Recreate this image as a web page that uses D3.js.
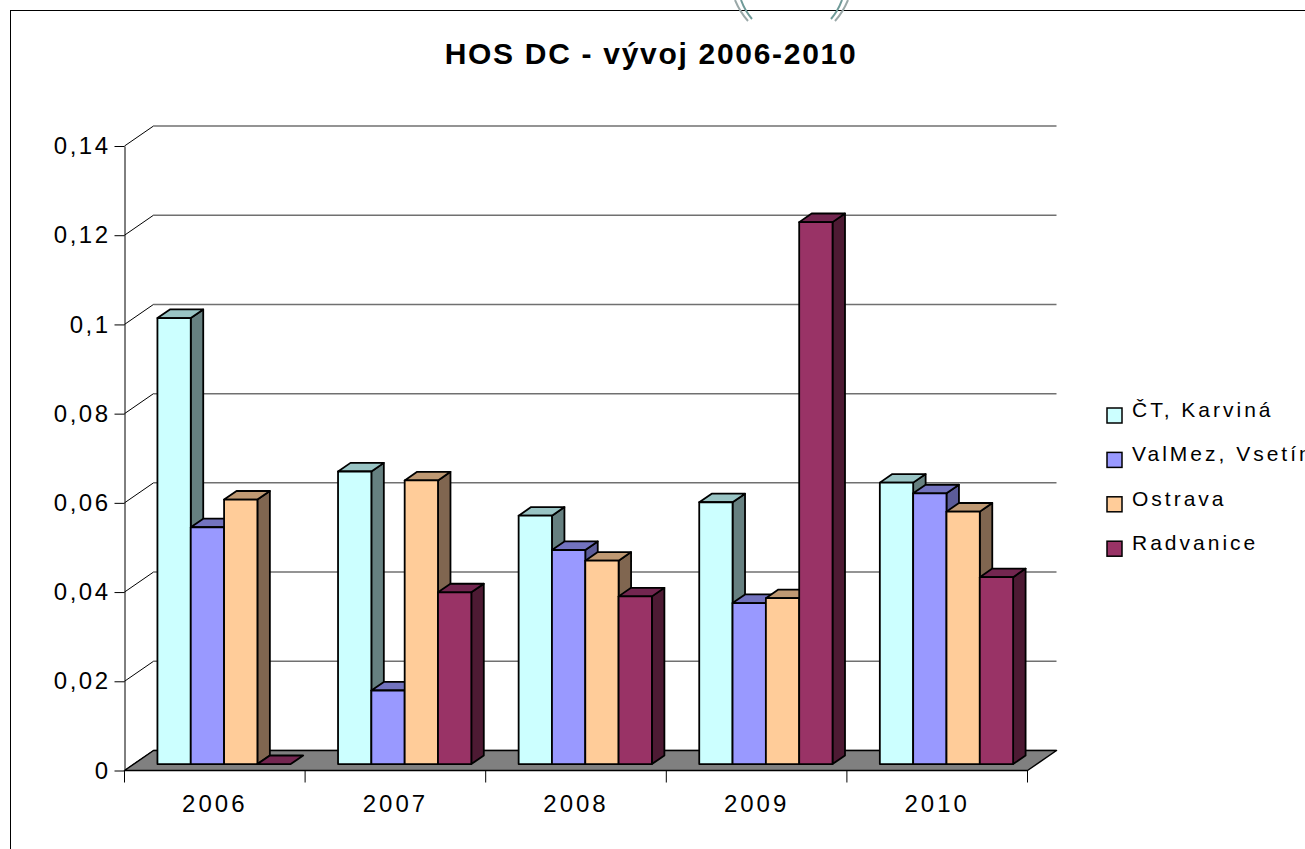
<!DOCTYPE html>
<html>
<head>
<meta charset="utf-8">
<script src="https://cdn.jsdelivr.net/npm/d3@7"></script>
<style>
  body { margin: 0; background: #fff; }
  text { font-family: Arial, "Liberation Sans", sans-serif; fill: #000; }
</style>
</head>
<body>
<svg id="chart" width="1305" height="849"></svg>
<script>
// ---- data ----
const years = ["2006", "2007", "2008", "2009", "2010"];
const seriesNames = ["ČT, Karviná", "ValMez, Vsetín", "Ostrava", "Radvanice"];
const ctKarvina    = [0.1000, 0.0656, 0.0557, 0.0587, 0.0631];
const valMezVsetin = [0.0531, 0.0165, 0.0480, 0.0361, 0.0607];
const ostrava      = [0.0593, 0.0636, 0.0456, 0.0372, 0.0566];
const radvanice    = [0.0000, 0.0385, 0.0376, 0.1215, 0.0419];
const yTickValues = [0, 0.02, 0.04, 0.06, 0.08, 0.10, 0.12, 0.14];
const yTickLabels = ["0", "0,02", "0,04", "0,06", "0,08", "0,1", "0,12", "0,14"];
const titleText = "HOS DC - vývoj 2006-2010";

const seriesValues = [ctKarvina, valMezVsetin, ostrava, radvanice];

// face colours per series: front, top, side
const frontColors = ["#CCFFFF", "#9999FF", "#FFCC99", "#993366"];
const topColors   = ["#99C4C4", "#7373BF", "#BF9973", "#732650"];
const sideColors  = ["#668080", "#5C5C99", "#806650", "#4D1A33"];

// ---- layout ----
const svg = d3.select("#chart");
const DX = 29, DY = -20;          // full depth offset of the 3D box
const Z0 = 0.32, Z1 = 0.75;       // depth slice occupied by the columns

const x = d3.scaleBand().domain(years).range([124.5, 1027.5]).paddingInner(0).paddingOuter(0);
const xs = d3.scaleBand().domain(seriesNames).range([0, x.bandwidth()]).paddingInner(0).paddingOuter(0.71);
const y = d3.scaleLinear().domain([0, 0.14]).range([770.5, 146]);

const P = (px, py, z) => [px + z * DX, py + z * DY];
const poly = pts => "M" + pts.map(p => p.join(",")).join("L") + "Z";

// chart area border
svg.append("line").attr("x1", 10).attr("y1", 10.5).attr("x2", 1305).attr("y2", 10.5)
  .attr("stroke", "#000").attr("stroke-width", 1);
svg.append("line").attr("x1", 10.5).attr("y1", 10).attr("x2", 10.5).attr("y2", 849)
  .attr("stroke", "#000").attr("stroke-width", 1);

// ornament peeking in at the top edge
const orn = svg.append("g").attr("fill", "none").attr("stroke-width", 2);
orn.append("path").attr("d", "M735,0 Q740,12 748,21").attr("stroke", "#9aa8a8");
orn.append("path").attr("d", "M741,0 Q745,11 752,19").attr("stroke", "#6f9a98");
orn.append("path").attr("d", "M848,0 Q843,12 835,21").attr("stroke", "#9aa8a8");
orn.append("path").attr("d", "M842,0 Q838,11 831,19").attr("stroke", "#6f9a98");

// title
svg.append("text")
  .attr("x", 651).attr("y", 64)
  .attr("text-anchor", "middle")
  .attr("font-size", 30).attr("font-weight", "bold")
  .attr("letter-spacing", 1.7)
  .text(titleText);

const x0 = x.range()[0], x1 = x.range()[1];

// back wall gridlines and side wall diagonals
const grid = svg.append("g");
grid.selectAll("line.back").data(yTickValues).join("line")
  .attr("class", "back")
  .attr("x1", x0 + DX).attr("x2", x1 + DX)
  .attr("y1", d => y(d) + DY).attr("y2", d => y(d) + DY)
  .attr("stroke", "#707070").attr("stroke-width", 1.5);
grid.selectAll("line.diag").data(yTickValues).join("line")
  .attr("class", "diag")
  .attr("x1", x0).attr("y1", d => y(d))
  .attr("x2", x0 + DX).attr("y2", d => y(d) + DY)
  .attr("stroke", "#000").attr("stroke-width", 1);

// floor
svg.append("path")
  .attr("d", poly([P(x0, y(0), 0), P(x1, y(0), 0), P(x1, y(0), 1), P(x0, y(0), 1)]))
  .attr("fill", "#808080").attr("stroke", "#000").attr("stroke-width", 1.5)
  .attr("stroke-linejoin", "round");

// value axis
const yAxis = svg.append("g")
  .attr("transform", `translate(${x0},0)`)
  .call(d3.axisLeft(y).tickValues(yTickValues)
    .tickFormat((d, i) => yTickLabels[i]).tickSize(10).tickSizeOuter(0).tickPadding(4));
yAxis.select(".domain").attr("stroke", "#000").attr("stroke-width", 1);
yAxis.selectAll(".tick line").attr("stroke", "#000").attr("stroke-width", 1);
yAxis.selectAll("text").attr("font-size", 24).attr("letter-spacing", 2.5)
  .attr("font-family", "Arial, 'Liberation Sans', sans-serif").attr("fill", "#000");

// category axis: boundary ticks and centred labels
const bounds = years.map(d => x(d)).concat([x1]);
svg.selectAll("line.ctick").data(bounds).join("line")
  .attr("class", "ctick")
  .attr("x1", d => d).attr("x2", d => d)
  .attr("y1", y(0)).attr("y2", y(0) + 12)
  .attr("stroke", "#000").attr("stroke-width", 1);
const xAxis = svg.append("g")
  .attr("transform", `translate(0,${y(0)})`)
  .call(d3.axisBottom(x).tickSize(0).tickPadding(24));
xAxis.select(".domain").remove();
xAxis.selectAll("text").attr("font-size", 24).attr("letter-spacing", 3)
  .attr("font-family", "Arial, 'Liberation Sans', sans-serif").attr("fill", "#000");

// columns, drawn left to right so each one covers its neighbour's side face
const bars = [];
years.forEach((yr, gi) => {
  seriesNames.forEach((s, si) => {
    bars.push({ year: yr, series: s, si, value: seriesValues[si][gi] });
  });
});

const barG = svg.append("g")
  .attr("stroke", "#000").attr("stroke-width", 1.8).attr("stroke-linejoin", "round");

const col = barG.selectAll("g.col").data(bars).join("g").attr("class", "col");
col.each(function (d) {
  const g = d3.select(this);
  const bx = x(d.year) + xs(d.series);
  const bw = xs.bandwidth();
  const yb = y(0), yt = y(d.value);
  if (d.value > 0) {
    g.append("path")
      .attr("d", poly([P(bx + bw, yb, Z0), P(bx + bw, yb, Z1), P(bx + bw, yt, Z1), P(bx + bw, yt, Z0)]))
      .attr("fill", sideColors[d.si]);
  }
  g.append("path")
    .attr("d", poly([P(bx, yt, Z0), P(bx + bw, yt, Z0), P(bx + bw, yt, Z1), P(bx, yt, Z1)]))
    .attr("fill", topColors[d.si]);
  if (d.value > 0) {
    g.append("path")
      .attr("d", poly([P(bx, yb, Z0), P(bx + bw, yb, Z0), P(bx + bw, yt, Z0), P(bx, yt, Z0)]))
      .attr("fill", frontColors[d.si]);
  }
});

// legend
const legend = svg.append("g");
const lg = legend.selectAll("g").data(seriesNames).join("g")
  .attr("transform", (d, i) => `translate(1107,${417 + i * 44.4})`);
lg.append("rect")
  .attr("x", 0).attr("y", -9).attr("width", 15).attr("height", 15)
  .attr("fill", (d, i) => frontColors[i]).attr("stroke", "#000").attr("stroke-width", 1.5);
lg.append("text")
  .attr("x", 25).attr("y", 0)
  .attr("font-size", 21).attr("letter-spacing", 3)
  .text(d => d);
</script>
</body>
</html>
